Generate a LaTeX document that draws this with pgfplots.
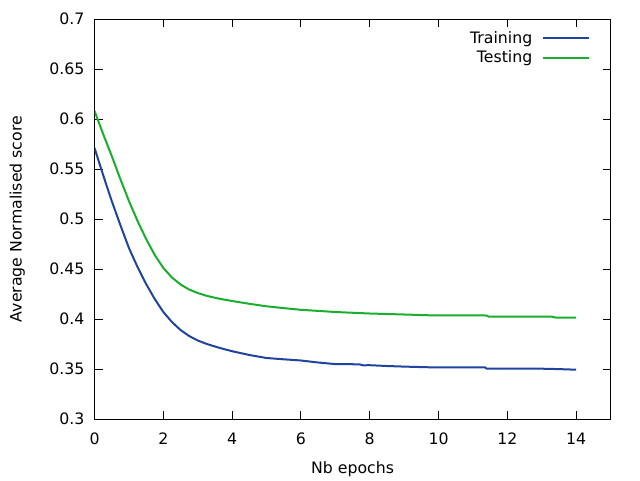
\documentclass[border=0pt]{standalone}
\usepackage{pgfplots}
\pgfplotsset{compat=1.18}
\usepackage{fontspec}
\setmainfont{DejaVu Sans}
\definecolor{trainc}{RGB}{32,68,158}
\definecolor{testc}{RGB}{25,175,45}
\begin{document}
\begin{tikzpicture}[x=1pt,y=1pt]
\useasboundingbox (-70.9,-45.75) rectangle (409.1,314.25);
\begin{axis}[
  at={(0,0)}, anchor=south west,
  scale only axis, width=387pt, height=300pt,
  xmin=0, xmax=15, ymin=0.3, ymax=0.7,
  xtick={0,2,...,14}, ytick={0.3,0.35,...,0.71},
  yticklabel style={/pgf/number format/fixed,/pgf/number format/precision=2, xshift=-4pt},
  xticklabel style={yshift=-7pt},
  /pgf/number format/assume math mode=true,
  tick align=inside, major tick length=6pt,
  tick style={black, line width=0.75pt},
  axis line style={black, line width=0.75pt},
  font=\fontsize{11.8pt}{14pt}\selectfont,
  xlabel={Nb epochs}, ylabel={Average Normalised score},
  xlabel style={at={(axis description cs:0.5,0)}, anchor=center, yshift=-37.5pt},
  ylabel style={at={(axis description cs:0,0.5)}, anchor=center, yshift=58pt},
  legend plot pos=right,
  legend cell align=right,
  legend image code/.code={\path (0pt,0pt); \draw[#1] (5pt,0pt) -- (40pt,0pt);},
  legend style={at={(axis description cs:1,1)}, anchor=north east, draw=none, fill=none, xshift=-12pt, yshift=-5pt, row sep=0pt, font=\fontsize{11.8pt}{14pt}\selectfont},
]
\addplot[trainc, line width=1.5pt] table {
x y
0 0.571
0.25 0.544
0.5 0.518
0.75 0.494
1 0.471
1.25 0.452
1.5 0.435
1.75 0.420
2 0.407
2.25 0.397
2.5 0.389
2.75 0.3830
3 0.3785
3.25 0.3752
3.5 0.3725
3.75 0.3700
4 0.3678
4.5 0.3640
5 0.3610
5.5 0.3597
6 0.3585
6.5 0.3565
7 0.3549
7.7 0.3547
7.8 0.3537
8 0.3538
8.5 0.3530
9 0.3524
9.75 0.3517
11.35 0.3517
11.4 0.3503
13 0.3503
13.5 0.3499
14 0.3493
};
\addlegendentry{Training}
\addplot[testc, line width=1.5pt] table {
x y
0 0.608
0.25 0.585
0.5 0.563
0.75 0.540
1 0.518
1.25 0.498
1.5 0.480
1.75 0.464
2 0.451
2.25 0.4415
2.5 0.4345
2.75 0.4295
3 0.4260
3.25 0.4233
3.5 0.4212
3.75 0.4195
4 0.4180
4.5 0.4152
5 0.4127
5.7 0.4102
6 0.4092
7 0.4070
8 0.4055
9 0.4045
9.75 0.4037
11.4 0.4035
11.45 0.4025
13.3 0.4023
13.4 0.4015
14 0.4013
};
\addlegendentry{Testing}
\end{axis}
\end{tikzpicture}
\end{document}
